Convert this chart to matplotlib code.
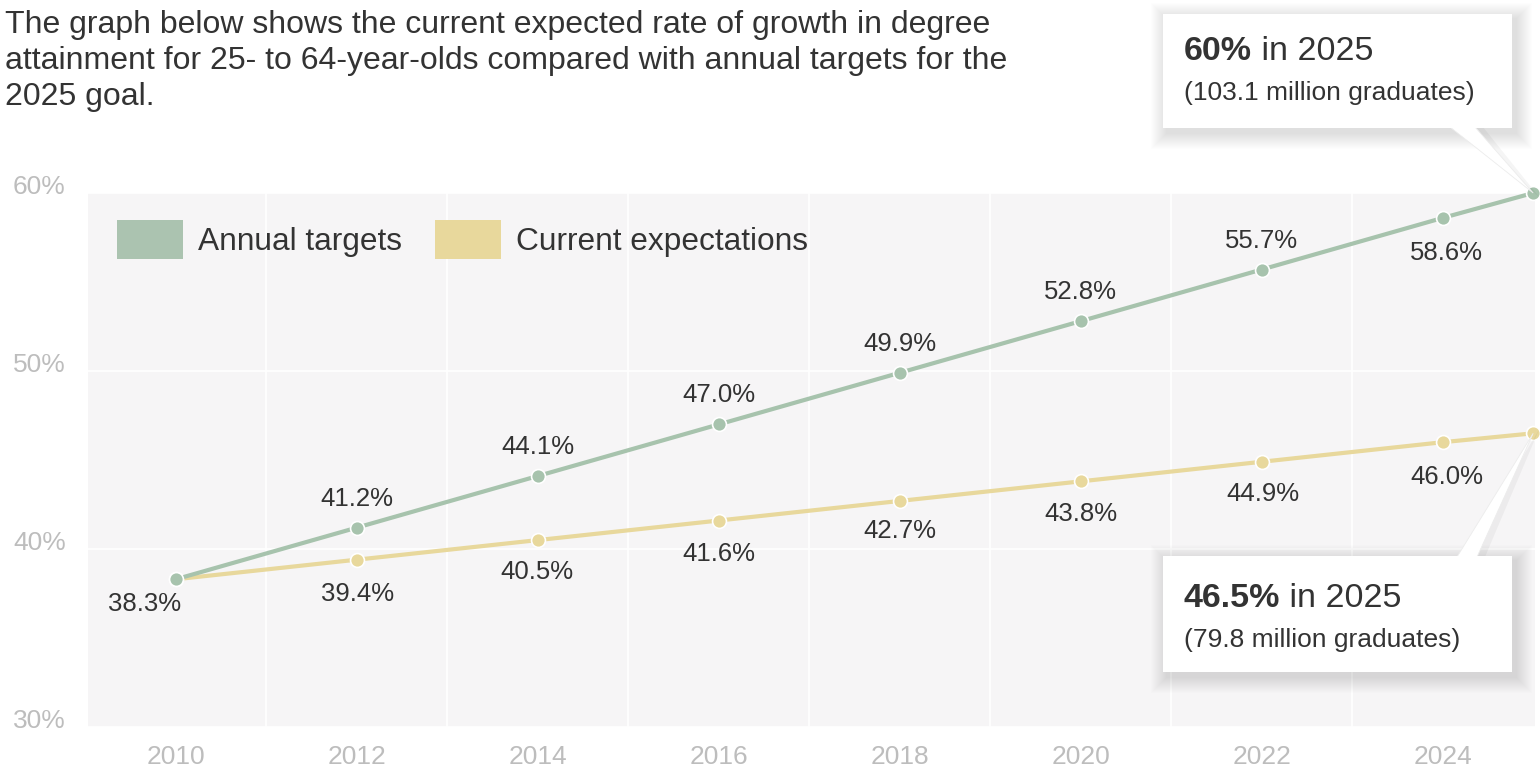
import matplotlib
matplotlib.use("Agg")
import matplotlib.pyplot as plt
from matplotlib.patches import Rectangle, Polygon, Patch
import matplotlib.transforms as mtransforms

plt.rcParams['font.family'] = ['Liberation Sans', 'DejaVu Sans']

# ---------------- data ----------------
years = [2010, 2012, 2014, 2016, 2018, 2020, 2022, 2024, 2025]
targets = [38.3, 41.2, 44.1, 47.0, 49.9, 52.8, 55.7, 58.6, 60.0]
expectations = [38.3, 39.4, 40.5, 41.6, 42.7, 43.8, 44.9, 46.0, 46.5]
x_ticks = [2010, 2012, 2014, 2016, 2018, 2020, 2022, 2024]
y_ticks = [30, 40, 50, 60]
series_names = ["Annual targets", "Current expectations"]
title_lines = ["The graph below shows the current expected rate of growth in degree",
               "attainment for 25- to 64-year-olds compared with annual targets for the",
               "2025 goal."]
callout_top = ("60%", " in 2025", "(103.1 million graduates)")
callout_bot = ("46.5%", " in 2025", "(79.8 million graduates)")

# ---------------- style ----------------
W, H = 1540, 768
GREEN = "#a7c3ad"
GREEN_LEG = "#abc3b0"
YELLOW = "#e8d89c"
BG = "#f6f5f6"
TXT = "#333333"
TICK = "#bdbdbd"

fig = plt.figure(figsize=(W / 100, H / 100), dpi=100)
fig.patch.set_facecolor("white")


def fx(x):
    return x / W


def fy(y):
    return 1 - y / H


ax = fig.add_axes([fx(88), fy(727), fx(1535) - fx(88), fy(193) - fy(727)])
ax.set_facecolor(BG)
ax.set_xlim(2009.03, 2025.02)
ax.set_ylim(30, 60)
for s in ax.spines.values():
    s.set_visible(False)

ax.set_xticks(x_ticks)
ax.set_xticklabels([str(v) for v in x_ticks])
ax.set_xticks(list(range(2011, 2025, 2)), minor=True)
ax.set_yticks(y_ticks)
ax.set_yticklabels([f"{v}%" for v in y_ticks])
ax.tick_params(axis='both', which='both', length=0)
ax.tick_params(axis='x', colors=TICK, labelsize=19, pad=13)
ax.tick_params(axis='y', colors=TICK, labelsize=19, pad=54)
for lab in ax.get_yticklabels():
    lab.set_horizontalalignment('left')
    lab.set_transform(lab.get_transform() +
                      mtransforms.ScaledTranslation(0, 8 / 100, fig.dpi_scale_trans))
ax.grid(False)
ax.xaxis.grid(True, which='minor', color='white', linewidth=1.2)
ax.yaxis.grid(True, which='major', color='white', linewidth=1.2)
ax.set_axisbelow(True)

ax.plot(years, targets, color=GREEN, linewidth=3, marker='o', markersize=10,
        markerfacecolor=GREEN, markeredgecolor='white', markeredgewidth=1.2,
        clip_on=False, zorder=4)
ax.plot(years, expectations, color=YELLOW, linewidth=3, marker='o', markersize=10,
        markerfacecolor=YELLOW, markeredgecolor='white', markeredgewidth=1.2,
        clip_on=False, zorder=3)

# data labels (pixel offsets label centre vs point)
t_off = [(-31, -25)] + [(0, 29)] * 6 + [(4, -35)]
e_off = [None, (1, -34), (-1, -32), (0, -33), (0, -30), (0, -33), (1, -32), (4, -35)]
lab_fs = 18.5
for i in range(len(years) - 1):
    dx, dy = t_off[i]
    ax.annotate(f"{targets[i]:.1f}%", (years[i], targets[i]), xytext=(dx * 0.72, dy * 0.72),
                textcoords='offset points', ha='center', va='center', fontsize=lab_fs,
                color=TXT, zorder=6)
    if e_off[i] is not None:
        dx, dy = e_off[i]
        ax.annotate(f"{expectations[i]:.1f}%", (years[i], expectations[i]),
                    xytext=(dx * 0.72, dy * 0.72), textcoords='offset points',
                    ha='center', va='center', fontsize=lab_fs, color=TXT, zorder=6)

# legend
handles = [Patch(facecolor=GREEN_LEG, edgecolor='none'), Patch(facecolor=YELLOW, edgecolor='none')]
fs_leg = 22.8
fig.legend(handles, series_names, loc='upper left', bbox_to_anchor=(fx(117), fy(220)),
           ncol=2, frameon=False, fontsize=fs_leg, handlelength=66 / (fs_leg / 0.72),
           handleheight=48 / (fs_leg / 0.72), handletextpad=0.47, columnspacing=1.05,
           borderpad=0, borderaxespad=0, labelcolor=TXT)

# title
for k, line in enumerate(title_lines):
    fig.text(fx(5), fy(33 + 36 * k), line, fontsize=23, color=TXT, ha='left', va='baseline')

# callouts
to_fig = ax.transData + fig.transFigure.inverted()


def callout(box, base, tip, lines, baselines):
    x0, y0, x1, y1 = box  # pixel coords from top-left
    # soft shadow
    for i in range(16, 0, -1):
        fig.add_artist(Rectangle((fx(x0 - i + 4), fy(y1 + i + 5)),
                                 fx(x1 - x0 + 2 * i), fy(y0) - fy(y1) + 2 * i / H,
                                 facecolor='black', alpha=0.008, edgecolor='none',
                                 transform=fig.transFigure, zorder=10))
    tipf = to_fig.transform(tip)
    (bx0, by), (bx1, _) = base
    fig.add_artist(Polygon([(fx(bx0 + 6), fy(by)), (fx(bx1 + 8), fy(by)),
                            (tipf[0] + 6 / W, tipf[1] + (4 if by > 300 else -4) / H)],
                           closed=True, facecolor='black', alpha=0.04, edgecolor='none',
                           transform=fig.transFigure, zorder=10))
    fig.add_artist(Polygon([(fx(bx0), fy(by)), (fx(bx1), fy(by)), tuple(tipf)], closed=True,
                           facecolor='white', edgecolor='#ececec', linewidth=0.6,
                           transform=fig.transFigure, zorder=11))
    fig.add_artist(Rectangle((fx(x0), fy(y1)), fx(x1 - x0), fy(y0) - fy(y1),
                             facecolor='white', edgecolor='none',
                             transform=fig.transFigure, zorder=12))
    bold, rest, sub = lines
    t1 = fig.text(fx(x0 + 21), fy(baselines[0]), bold, fontsize=24.5, fontweight='bold',
                  color=TXT, ha='left', va='baseline', zorder=13)
    fig.canvas.draw()
    bb = t1.get_window_extent(fig.canvas.get_renderer())
    fig.text(bb.x1 / W, fy(baselines[0]), rest, fontsize=24.5, color=TXT,
             ha='left', va='baseline', zorder=13)
    fig.text(fx(x0 + 21), fy(baselines[1]), sub, fontsize=19, color=TXT,
             ha='left', va='baseline', zorder=13)


callout((1163, 14, 1512, 128), ((1450, 127), (1475, 127)), (years[-1], targets[-1]),
        callout_top, (60, 100))
callout((1163, 556, 1512, 672), ((1457, 557), (1477, 557)), (years[-1], expectations[-1]),
        callout_bot, (607, 647))

fig.savefig("out.png", dpi=100, facecolor='white')
